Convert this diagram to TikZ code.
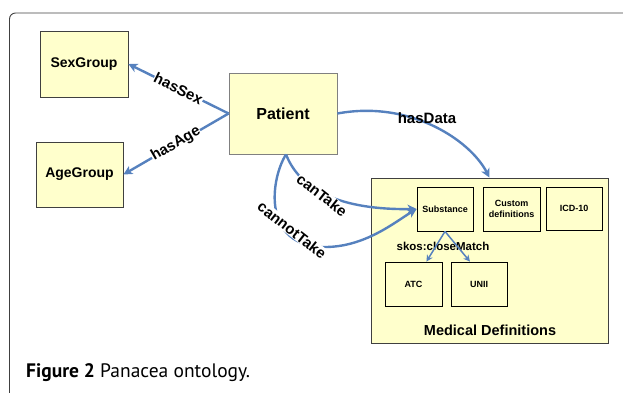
\documentclass[tikz,border=0pt]{standalone}
\usepackage{fontspec}
\setmainfont{Liberation Sans}
\newfontfamily\captionfont{PT Sans}
\usetikzlibrary{arrows.meta}

\definecolor{boxfill}{RGB}{255,255,204}
\definecolor{relblue}{RGB}{86,129,190}

\tikzset{
  concept/.style={draw=black!75, fill=boxfill, line width=0.8pt, align=center},
  rel/.style={draw=relblue, line width=2.4pt, -{Stealth[length=9pt,width=9pt,inset=2.5pt]}},
  skos/.style={draw=relblue, line width=1.5pt, -{Stealth[length=6.5pt,width=6.5pt,inset=2pt]}},
  rellabel/.style={font=\bfseries\fontsize{15}{15}\selectfont, fill=white, inner sep=0.5pt},
}

\begin{document}
\begin{tikzpicture}[x=1pt,y=-1pt]
\useasboundingbox (0,0) rectangle (623,392);
\clip (0,0) rectangle (623,392);
\draw[black!75, line width=0.9pt, rounded corners=6pt] (9.5,13) rectangle (660,420);

  % classes
  \node[concept, minimum width=88pt, minimum height=66pt, font=\bfseries\fontsize{14}{14}\selectfont] (sexgroup) at (84,64) {SexGroup};
  \node[concept, minimum width=87pt, minimum height=65pt, font=\bfseries\fontsize{14}{14}\selectfont] (agegroup) at (79.5,174.5) {AgeGroup};
  \node[concept, draw=black!50, minimum width=108pt, minimum height=81pt, font=\bfseries\fontsize{16}{16}\selectfont] (patient) at (283,113.5) {Patient};

  % medical definitions
  \node[concept, minimum width=237pt, minimum height=165pt] (meddefs) at (489.5,260.5) {};
  \node[font=\bfseries\fontsize{14.5}{14.5}\selectfont] (medlabel) at (490,330) {Medical Definitions};
  \node[concept, draw=black, minimum width=56pt, minimum height=44pt, font=\bfseries\fontsize{9}{11}\selectfont] (substance) at (445,209) {Substance};
  \node[concept, draw=black, minimum width=57pt, minimum height=44pt, font=\bfseries\fontsize{9}{11}\selectfont] (custom) at (511.5,209) {Custom\\definitions};
  \node[concept, draw=black, minimum width=56pt, minimum height=43pt, font=\bfseries\fontsize{9}{11}\selectfont] (icd) at (574,208.5) {ICD-10};
  \node[concept, draw=black, minimum width=57pt, minimum height=44pt, font=\bfseries\fontsize{9}{11}\selectfont] (atc) at (413.5,284) {ATC};
  \node[concept, draw=black, minimum width=56pt, minimum height=44pt, font=\bfseries\fontsize{9}{11}\selectfont] (unii) at (479,284) {UNII};

  % relations
  \draw[rel] (patient.west) -- node[rellabel, sloped] (hassex) {hasSex} (sexgroup.east);
  \draw[rel] (patient.west) -- node[rellabel, sloped] (hasage) {hasAge} (agegroup.east);

  \draw[rel] (patient.east) .. controls (410,100) and (470,140) .. (meddefs.north);
  \node[font=\bfseries\fontsize{15}{15}\selectfont] (hasdata) at (427,118) {hasData};

  \draw[rel] ([xshift=3pt]patient.south) .. controls (300,190) and (340,210) .. (substance.west);
  \draw[rel] ([xshift=3pt]patient.south) .. controls (270,180) and (262,247) .. (325,247)
     .. controls (365,247) and (395,222) .. (substance.west);
  \node[rellabel, rotate=-38] (cantake) at (322,195) {canTake};
  \node[rellabel, rotate=-38] (cannottake) at (292,230) {cannotTake};

  \node[font=\bfseries\fontsize{11.5}{11.5}\selectfont] (closematch) at (443,246) {skos:closeMatch};
  \draw[skos] (substance.south) -- (atc.60);
  \draw[skos] (substance.south) -- (unii.112);

  \node[anchor=base west, inner sep=0pt, font=\captionfont\fontsize{19.5}{19.5}\selectfont] (caption) at (26,377) {\textbf{Figure 2} Panacea ontology.};
\end{tikzpicture}
\end{document}
